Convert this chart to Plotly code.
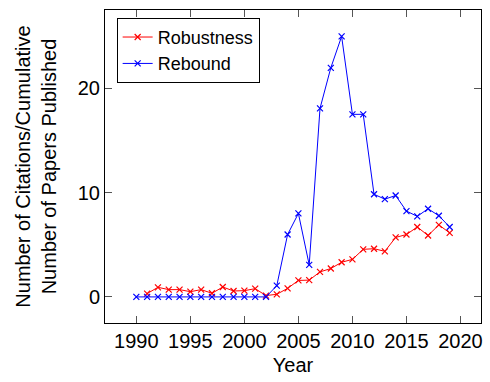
import plotly.graph_objects as go

years_rob = list(range(1991, 2020))
robustness = [0.32, 0.92, 0.70, 0.70, 0.50, 0.70, 0.35, 0.95, 0.57, 0.60, 0.79, 0.13,
              0.25, 0.82, 1.58, 1.61, 2.40, 2.72, 3.32, 3.60, 4.56, 4.62, 4.37, 5.70,
              5.98, 6.70, 5.89, 6.90, 6.14]
years_reb = list(range(1990, 2020))
rebound = [0, 0, 0, 0, 0, 0, 0, 0, 0, 0, 0, 0, 0, 1.08, 5.98, 8.0, 3.07, 18.07,
           21.96, 24.97, 17.5, 17.5, 9.84, 9.37, 9.72, 8.23, 7.72, 8.45, 7.78, 6.7]
x_ticks = [1990, 1995, 2000, 2005, 2010, 2015, 2020]
y_ticks = [0, 10, 20]

font = "Liberation Sans, Arial, Helvetica, sans-serif"

fig = go.Figure()
fig.add_trace(go.Scatter(x=years_rob, y=robustness, name="Robustness", mode="lines+markers",
                         line=dict(color="red", width=1),
                         marker=dict(symbol="x-thin", size=6, line=dict(color="red", width=1.2))))
fig.add_trace(go.Scatter(x=years_reb, y=rebound, name="Rebound", mode="lines+markers",
                         line=dict(color="blue", width=1),
                         marker=dict(symbol="x-thin", size=6, line=dict(color="blue", width=1.2))))

axis_common = dict(showgrid=False, zeroline=False, showline=True, linecolor="black", linewidth=1,
                   mirror="allticks", ticks="inside", ticklen=7, tickcolor="#555", tickwidth=1,
                   tickfont=dict(size=20, color="black", family=font))
fig.update_layout(
    width=490, height=382,
    margin=dict(l=105, r=7, t=10, b=59),
    paper_bgcolor="white", plot_bgcolor="white",
    font=dict(family=font, color="black"),
    showlegend=True,
    legend=dict(x=0.031, y=0.975, xanchor="left", yanchor="top", bgcolor="white",
                bordercolor="black", borderwidth=1, font=dict(size=18, family=font),
                tracegroupgap=0, itemwidth=30),
    xaxis=dict(range=[1987.1, 2021.9], tickvals=x_ticks, ticktext=[str(v) for v in x_ticks],
               title=dict(text="Year", font=dict(size=20, family=font), standoff=6), **axis_common),
    yaxis=dict(range=[-2.5, 27.5], tickvals=y_ticks, ticktext=[str(v) for v in y_ticks],
               title=dict(text="Number of Citations/Cumulative<br>Number of Papers Published",
                          font=dict(size=20, family=font), standoff=15), **axis_common),
)
fig.write_html("out.html", config={"displayModeBar": False},
               post_script="document.body.style.margin='0';document.body.style.overflow='hidden';")
